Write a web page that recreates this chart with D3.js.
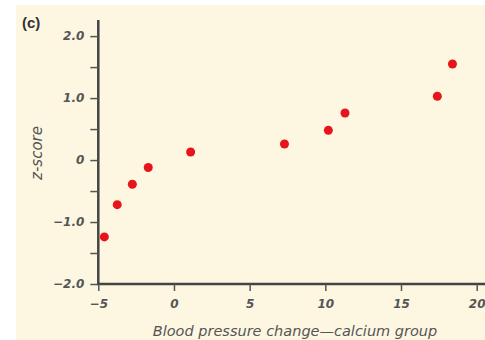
<!DOCTYPE html>
<html>
<head>
<meta charset="utf-8">
<script src="https://cdn.jsdelivr.net/npm/d3@7"></script>
<style>
  body { margin: 0; background: #fff; }
  svg { display: block; }
  .tick text { font-family: "DejaVu Sans", sans-serif; font-style: italic; font-weight: bold; fill: #555; }
</style>
</head>
<body>
<svg id="chart" width="485" height="340"></svg>
<script>
// blood pressure change (calcium group) vs normal z-score
const bpChange = [-4.6, -3.75, -2.75, -1.7, 1.1, 7.3, 10.2, 11.3, 17.4, 18.4];
const zScore = [-1.24, -0.72, -0.39, -0.12, 0.13, 0.26, 0.48, 0.76, 1.03, 1.55];
const xTicks = [-5, 0, 5, 10, 15, 20];
const yTicks = [-2, -1.5, -1, -0.5, 0, 0.5, 1, 1.5, 2];
const yLabelled = [-2, -1, 0, 1, 2];

const svg = d3.select('#chart');

// cream panel
svg.append('rect').attr('x', 16).attr('y', 5).attr('width', 469).attr('height', 335).attr('fill', '#fdf7e2');

const x = d3.scaleLinear().domain([-5, 20.55]).range([98.3, 485]);
const y = d3.scaleLinear().domain([-2, 2.26]).range([284, 20]);

const fmtY = d => yLabelled.includes(d) ? (d === 0 ? '0' : d.toFixed(1).replace('-', '\u2212')) : '';
const fmtX = d => String(d).replace('-', '\u2212');

const yAxis = svg.append('g')
    .attr('transform', 'translate(' + x(-5) + ',0)')
    .call(d3.axisLeft(y).tickValues(yTicks).tickFormat(fmtY).tickSize(8).tickPadding(6));

const xAxis = svg.append('g')
    .attr('transform', 'translate(0,' + y(-2) + ')')
    .call(d3.axisBottom(x).tickValues(xTicks).tickFormat(fmtX).tickSize(7).tickPadding(8));

[xAxis, yAxis].forEach(a => {
    a.select('.domain').attr('stroke', '#444').attr('stroke-width', 2.5);
    a.selectAll('.tick line').attr('stroke', '#555').attr('stroke-width', 1.5);
    a.selectAll('.tick text').attr('font-size', 12);
});
// remove outer end caps of domain paths
yAxis.select('.domain').attr('d', 'M0,' + y(2.26) + 'V' + (y(-2) + 1));
xAxis.select('.domain').attr('d', 'M' + (x(-5) - 1) + ',0H485');

svg.selectAll('circle.pt')
    .data(bpChange)
    .enter().append('circle')
    .attr('class', 'pt')
    .attr('cx', d => x(d))
    .attr('cy', (d, i) => y(zScore[i]))
    .attr('r', 4.5)
    .attr('fill', '#e8141c');

svg.append('text')
    .attr('x', 22).attr('y', 28)
    .attr('font-family', 'Liberation Sans, Arial, sans-serif')
    .attr('font-weight', 'bold')
    .attr('font-size', 15)
    .attr('fill', '#333')
    .text('(c)');

svg.append('text')
    .attr('x', 295).attr('y', 336)
    .attr('text-anchor', 'middle')
    .attr('font-family', 'DejaVu Sans, sans-serif')
    .attr('font-style', 'italic')
    .attr('font-size', 14.5)
    .attr('fill', '#555')
    .text('Blood pressure change\u2014calcium group');

svg.append('text')
    .attr('transform', 'translate(42,153) rotate(-90)')
    .attr('text-anchor', 'middle')
    .attr('font-family', 'DejaVu Sans, sans-serif')
    .attr('font-style', 'italic')
    .attr('font-size', 15)
    .attr('fill', '#555')
    .text('z-score');
</script>
</body>
</html>
